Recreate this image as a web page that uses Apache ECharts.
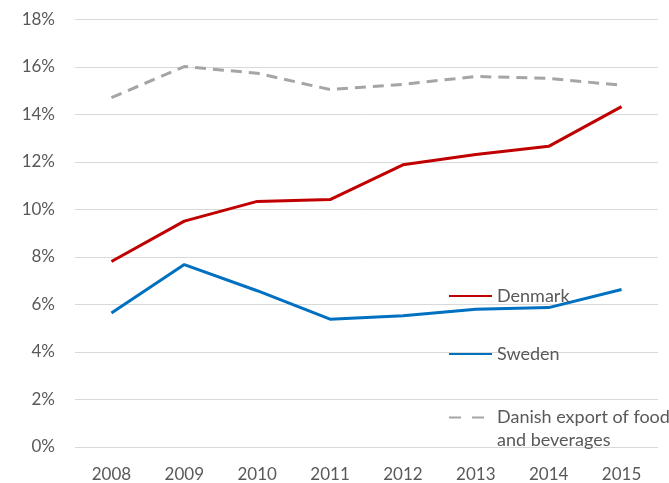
<!DOCTYPE html>
<html>
<head>
<meta charset="utf-8">
<script src="https://cdn.jsdelivr.net/npm/echarts@6/dist/echarts.min.js"></script>
<style>html,body{margin:0;padding:0;background:#fff;}#c{width:669px;height:483px;}</style>
</head>
<body>
<div id="c"></div>
<script>
const years = ['2008','2009','2010','2011','2012','2013','2014','2015'];
const denmark = [7.81, 9.51, 10.34, 10.42, 11.88, 12.32, 12.66, 14.33];
const sweden = [5.64, 7.68, 6.58, 5.38, 5.53, 5.80, 5.87, 6.63];
const danishExport = [14.71, 16.02, 15.74, 15.05, 15.27, 15.60, 15.52, 15.23];
const names = ['Denmark', 'Sweden', 'Danish export of food\nand beverages'];

const font = 'Lato, "Open Sans", sans-serif';
const txt = '#595959';
const chart = echarts.init(document.getElementById('c'));
const legendBase = {
  orient: 'vertical', left: 443, itemWidth: 43, itemHeight: 14, itemGap: 10,
  itemStyle: { opacity: 0 },
  textStyle: { fontFamily: font, fontSize: 18, color: txt, lineHeight: 20 }
};
chart.setOption({
  backgroundColor: '#fff',
  animation: false,
  grid: { left: 75, right: 11, top: 19.5, bottom: 34 },
  legend: [
    Object.assign({}, legendBase, { data: [names[0]], top: 281 }),
    Object.assign({}, legendBase, { data: [names[1]], top: 339 }),
    Object.assign({}, legendBase, { data: [names[2]], top: 378,
      formatter: n => ' \n' + n,
      lineStyle: { type: [12, 11] },
      textStyle: { fontFamily: font, fontSize: 18, color: txt, lineHeight: 23 } })
  ],
  xAxis: {
    type: 'category', data: years, boundaryGap: true,
    axisLine: { show: false }, axisTick: { show: false },
    axisLabel: { fontFamily: font, fontSize: 17, color: txt, margin: 19 }
  },
  yAxis: {
    type: 'value', min: 0, max: 18, interval: 2,
    axisLine: { show: false }, axisTick: { show: false },
    splitLine: { lineStyle: { color: '#D9D9D9', width: 1 } },
    axisLabel: { fontFamily: font, fontSize: 17, color: txt, margin: 20, formatter: v => v + '%' }
  },
  series: [
    { name: names[0], type: 'line', data: denmark, symbol: 'none', color: '#C00000',
      lineStyle: { width: 3, color: '#C00000' } },
    { name: names[1], type: 'line', data: sweden, symbol: 'none', color: '#0070C0',
      lineStyle: { width: 3, color: '#0070C0' } },
    { name: names[2], type: 'line', data: danishExport, symbol: 'none', color: '#A5A5A5',
      lineStyle: { width: 3, color: '#A5A5A5', type: [11, 7] } }
  ]
});
</script>
</body>
</html>
